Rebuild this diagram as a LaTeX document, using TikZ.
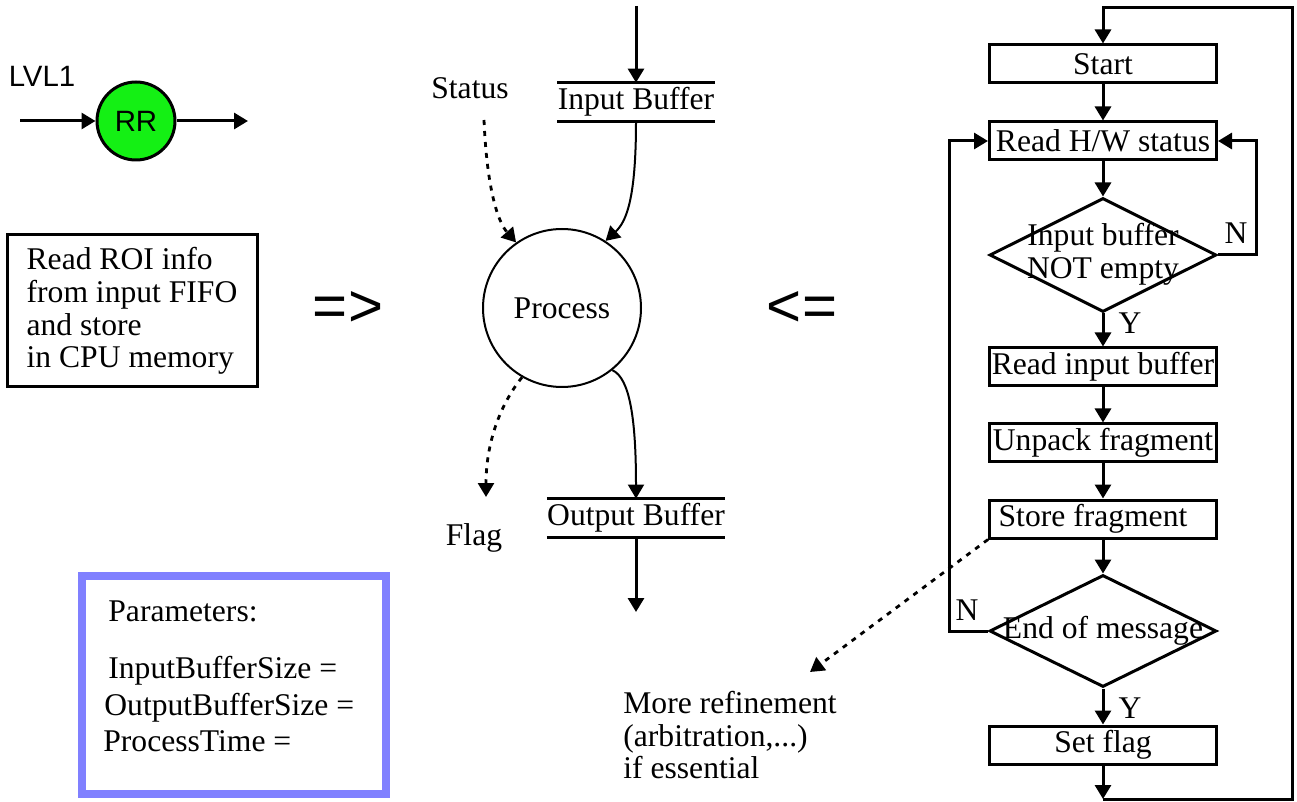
\documentclass[tikz,border=0pt]{standalone}
\usepackage{fontspec}
\setmainfont{Liberation Serif}
\newfontfamily\arialfont{Liberation Sans}
\usetikzlibrary{arrows.meta,shapes.geometric}

\begin{document}
\begin{tikzpicture}[x=0.5pt,y=-0.5pt,
  txt/.style={font=\fontsize{15.8}{16.3}\selectfont},
  tip/.style={-{Triangle[length=7pt,width=8pt]}},
  flow/.style={line width=1.5pt},
  thin/.style={line width=1pt},
  stepbox/.style={txt,draw,line width=1.5pt,minimum width=113.5pt,minimum height=19pt,inner sep=0pt},
  decision/.style={draw,diamond,line width=1.5pt,minimum width=113.5pt,minimum height=57pt,inner sep=0pt},
  buffer/.style={txt,minimum width=77.5pt,minimum height=19pt,inner sep=0pt},
  dots/.style={line width=1.4pt,dash pattern=on 2.5pt off 3pt},
  bigsym/.style={font=\arialfont\fontsize{30}{31}\selectfont},
]
\useasboundingbox (0,0) rectangle (1297,802);

% ---- round-robin symbol ----
\node[font=\arialfont\fontsize{14.7}{16}\selectfont] (lvl) at (42,76) {LVL1};
\node[circle,draw,line width=1.5pt,fill={rgb,255:red,20;green,240;blue,20},minimum size=39pt,inner sep=0pt,
      font=\arialfont\fontsize{14.7}{16}\selectfont] (rr) at (136,121) {RR};
\coordinate (rrin) at (20,121);
\coordinate (rrout) at (248,121);
\draw[flow,tip] (rrin) -- (rr.west);
\draw[flow,tip] (rr.east) -- (rrout);

% ---- task description ----
\node[txt,draw,line width=1.5pt,align=left,minimum width=125pt,minimum height=76pt] (roi) at (132,311)
  {Read ROI info\\from input FIFO\\and store\\in CPU memory};

\node[bigsym] (impl) at (348,309) {=>};
\node[bigsym] (refine) at (802,309) {<=};

% ---- parameters ----
\draw[line width=4pt,draw={rgb,255:red,128;green,128;blue,255}] (82,576) rectangle (386,794);
\node[txt,anchor=base west,inner sep=0pt] (par) at (108,621) {Parameters:};
\node[txt,anchor=base west,inner sep=0pt] (pin) at (108,678) {InputBufferSize =};
\node[txt,anchor=base west,inner sep=0pt] (pout) at (104,715) {OutputBufferSize =};
\node[txt,anchor=base west,inner sep=0pt] (ptime) at (103,751) {ProcessTime =};

% ---- process model ----
\node[txt,circle,draw,thin,minimum size=79pt,inner sep=0pt] (proc) at (562,308) {Process};

\node[buffer] (ib) at (636,102) {Input Buffer};
\draw[flow] (ib.north west) -- (ib.north east) (ib.south west) -- (ib.south east);
\coordinate (ibin) at (636,6);
\draw[flow,tip] (ibin) -- (ib.north);
\draw[thin,tip] (ib.south) .. controls (636,200) and (626,222) .. (proc.57);

\node[txt] (status) at (470,88) {Status};
\coordinate (stat) at (484,120);
\draw[dots,tip] (stat) .. controls (487,190) and (498,222) .. (proc.125);

\coordinate (flagtip) at (486,497);
\draw[dots,tip] (proc.240) .. controls (496,410) and (486,450) .. (flagtip);
\node[txt] (flag) at (474,538) {Flag};

\node[buffer] (ob) at (636,518) {Output Buffer};
\draw[flow] (ob.north west) -- (ob.north east) (ob.south west) -- (ob.south east);
\draw[thin,tip] (proc.309) .. controls (630,378) and (636,420) .. (ob.north);
\coordinate (obout) at (636,612);
\draw[flow,tip] (ob.south) -- (obout);

% ---- flow chart ----
\node[stepbox] (start) at (1103,64) {Start};
\node[stepbox] (hw) at (1103,141) {Read H/W status};
\node[decision] (d1) at (1103,255) {};
\node[txt,align=center] (d1t) at (1103,254) {Input buffer\\NOT empty};
\node[stepbox] (rib) at (1103,367) {Read input buffer};
\node[stepbox] (unp) at (1103,443) {Unpack fragment};
\node[stepbox] (store) at (1103,519) {\hspace*{-10pt}Store fragment};
\node[decision,minimum height=56pt] (d2) at (1103,631) {};
\node[txt] (d2t) at (1103,631) {End of message};
\node[stepbox] (setf) at (1103,745) {Set flag};

\draw[flow,tip] (start) -- (hw);
\draw[flow,tip] (hw) -- (d1);
\draw[flow,tip] (d1) -- (rib);
\draw[flow,tip] (rib) -- (unp);
\draw[flow,tip] (unp) -- (store);
\draw[flow,tip] (store) -- (d2);
\draw[flow,tip] (d2) -- (setf);

\node[txt] (y1) at (1130,323) {Y};
\node[txt] (y2) at (1130,708) {Y};
\node[txt] (n1) at (1236,233) {N};
\node[txt] (n2) at (967,610) {N};

\draw[flow,tip] (d1.east) -- ++(38,0) |- (hw.east);
\draw[flow,tip] (d2.west) -- ++(-39,0) |- (hw.west);

\coordinate (bot) at (1103,799);
\coordinate (corner) at (1292,8);
\draw[flow,tip] (setf) -- (bot);
\draw[flow,tip] (bot) -| (corner) -| (start.north);

% ---- refinement note ----
\coordinate (reftip) at (810,672);
\draw[dots,tip] (store.south west) -- (reftip);
\node[txt,align=left,anchor=north west,inner sep=0pt] (note) at (623,691)
  {More refinement\\(arbitration,...)\\if essential};

\end{tikzpicture}
\end{document}
